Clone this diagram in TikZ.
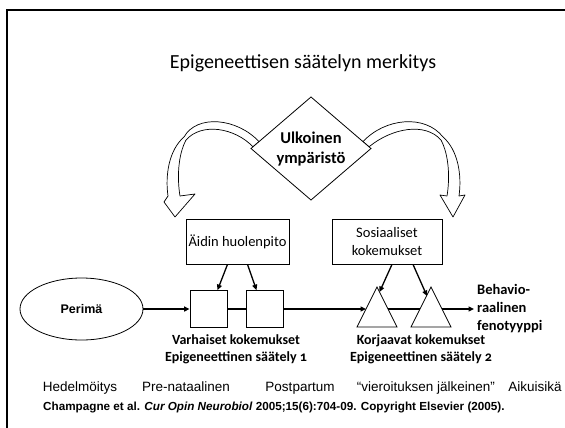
\documentclass[tikz,border=0pt]{standalone}
\usepackage{fontspec}
\setmainfont{Carlito}[Numbers=OldStyle]
\newfontfamily\arialf{Liberation Sans}
\usetikzlibrary{shapes.geometric,arrows.meta}
\tikzset{
  frameline/.style={line width=2pt},
  box/.style={draw, line width=0.8pt, fill=white, inner sep=0pt},
  sqbox/.style={draw, line width=0.8pt, fill=white, minimum width=37pt, minimum height=37pt, inner sep=0pt},
  blockarrow/.style={draw, line width=0.7pt, fill=white, line join=round},
  conn/.style={line width=1.3pt, -{Triangle[length=5.5pt,width=5pt]}},
  plainconn/.style={line width=1.3pt},
  lbl/.style={font=\fontsize{14}{17.5}\selectfont\bfseries, align=center, inner sep=0pt},
  timetxt/.style={font=\arialf\fontsize{13.5}{15}\selectfont, inner sep=0pt, anchor=base},
}
\begin{document}
\begin{tikzpicture}[x=1pt,y=-1pt]
\useasboundingbox (0,0) rectangle (565,428);
\fill[white] (0,0) rectangle (565,428);
\draw[frameline] (7,428) -- (7,10) -- (566,10);

\node[inner sep=0pt] (title) at (303,63) {\fontsize{20}{24}\selectfont Epigeneettisen säätelyn merkitys};

% curved block arrows (slightly twisted bands)
\path[blockarrow] (259,141.6) .. controls (237,118) and (197,114) .. (184,137)
  .. controls (169,150) and (165,175) .. (168,196) -- (164,202) -- (175,217) -- (195,194) -- (180,196)
  .. controls (177,178) and (178,155) .. (186,140) .. controls (202,122) and (235,128) .. (253,146.8) -- cycle;
\path[blockarrow] (363,141.6) .. controls (385,118) and (425,114) .. (443,137)
  .. controls (458,150) and (462,175) .. (459,196) -- (465,195) -- (453,217) -- (440,195) -- (447,196)
  .. controls (450,178) and (449,155) .. (441,140) .. controls (425,122) and (392,128) .. (369,146.8) -- cycle;

% diamond
\coordinate (dN) at (311,97);
\coordinate (dE) at (371,148.5);
\coordinate (dS) at (311,200);
\coordinate (dW) at (251,148.5);
\draw[line width=0.8pt, fill=white] (dN) -- (dE) -- (dS) -- (dW) -- cycle;
\node[font=\fontsize{16.5}{20}\selectfont\bfseries, align=center] (env) at (311,149) {Ulkoinen\\ympäristö};

% boxes
\node[box, minimum width=103pt, minimum height=45pt, font=\fontsize{14.5}{17}\selectfont] (aidin) at (237.5,241.5) {Äidin huolenpito};
\node[box, minimum width=110pt, minimum height=45pt, font=\fontsize{14.5}{18}\selectfont, align=center] (sos) at (387,241.5) {Sosiaaliset\\kokemukset};

% genome
\node[draw, ellipse, line width=0.8pt, minimum width=123pt, minimum height=62pt, inner sep=0pt, font=\arialf\bfseries\fontsize{12.5}{14}\selectfont] (perima) at (81.5,309) {Perimä};

% squares
\node[sqbox] (sq1) at (208.5,309) {};
\node[sqbox] (sq2) at (264.5,309) {};

% triangles
\draw[line width=0.8pt, fill=white] (377,287) -- (397,327) -- (357,327) -- cycle;
\draw[line width=0.8pt, fill=white] (431,287) -- (451,327) -- (411,327) -- cycle;
\coordinate (t1w) at (366,309);
\coordinate (t1e) at (388,309);
\coordinate (t2w) at (420,309);
\coordinate (t2e) at (442,309);
\coordinate (t1in) at (379.5,292);
\coordinate (t2in) at (427,296);
\coordinate (phen) at (474,309);

% main line
\draw[conn] (perima.east) -- (sq1.west);
\draw[plainconn] (sq1.east) -- (sq2.west);
\draw[conn] (sq2.east) -- (t1w);
\draw[plainconn] (t1e) -- (t2w);
\draw[conn] (t2e) -- (phen);

% influences
\draw[conn] ([xshift=-10pt]aidin.south) -- ([xshift=9pt]sq1.north);
\draw[conn] ([xshift=10pt]aidin.south) -- ([xshift=-8pt]sq2.north);
\draw[conn] ([xshift=5pt]sos.south) -- (t1in);
\draw[conn] ([xshift=26pt]sos.south) -- (t2in);

% labels
\node[lbl] (varh) at (236,349.5) {Varhaiset kokemukset\\Epigeneettinen säätely 1};
\node[lbl] (korj) at (421,349.5) {Korjaavat kokemukset\\Epigeneettinen säätely 2};
\node[lbl, align=left, anchor=west, font=\fontsize{14.5}{18}\selectfont\bfseries] (beh) at (477,309) {Behavio-\\raalinen\\fenotyyppi};

% timeline
\node[timetxt] (h1) at (80,391) {Hedelmöitys};
\node[timetxt] (h2) at (186,391) {Pre-nataalinen};
\node[timetxt] (h3) at (300,391) {Postpartum};
\node[timetxt] (h4) at (426,391) {“vieroituksen jälkeinen”};
\node[timetxt] (h5) at (535,391) {Aikuisikä};

\node[anchor=west, inner sep=0pt, font=\arialf\bfseries\fontsize{11.7}{13}\selectfont] (cite) at (43,407) {Champagne et al. \textit{Cur Opin Neurobiol} 2005;15(6):704-09. Copyright Elsevier (2005).};
\end{tikzpicture}
\end{document}
